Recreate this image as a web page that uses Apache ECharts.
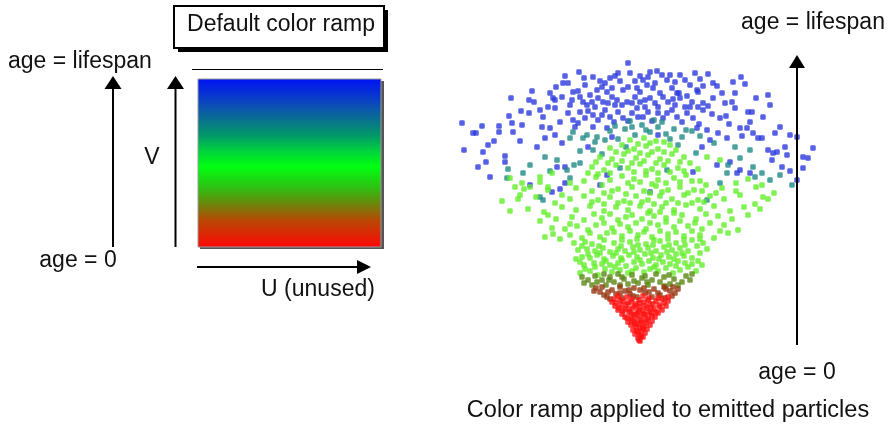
<!DOCTYPE html>
<html>
<head>
<meta charset="utf-8">
<script src="https://cdn.jsdelivr.net/npm/echarts@6/dist/echarts.min.js"></script>
<style>html,body{margin:0;padding:0;background:#fff}#c{width:895px;height:426px}</style>
</head>
<body>
<div id="c"></div>
<script>
// Particle positions: [horizontal offset from emitter, height above emitter], grouped by the colour
const blueParticles = [
[-178,220],[-167,210],[-164,210],[-158,217],[-176,193],[-162,176],[-157,191],[-154,181],[-150,166],[-141,217],[-141,211],[-135,187],[-135,181],
[-129,245],[-131,227],[-128,220],[-127,211],[-119,232],[-111,243],[-106,241],[-111,230],[-103,196],[-100,233],[-98,216],[-90,250],[-84,256],
[-85,243],[-85,235],[-75,267],[-77,260],[-72,260],[-61,271],[-56,265],[-12,280],
[-30,265],[-25,267],[0,267],[3,263],[17,272],[22,268],[27,263],[45,263],[60,264],[68,269],[73,260],[93,261],
[-67,251],[-43,253],[-38,256],[-33,251],[-28,255],[-17,253],[-12,256],[-3,255],[0,251],[7,258],[13,255],[15,260],[32,255],[37,250],[57,253],
[-87,245],[-68,243],[-57,241],[-53,238],[-42,245],[-37,241],[-28,246],[-23,243],[-18,238],[-13,241],[-5,246],[0,241],[10,245],[15,240],[23,246],
[28,241],[40,245],[52,241],[63,240],[73,245],[92,241],
[-97,226],[-80,221],[-72,230],[-67,223],[-60,231],[-55,225],[-47,228],[-42,223],[-35,233],[-30,226],[-22,231],[-17,225],[-8,230],[-3,235],[3,226],
[8,231],[18,230],[23,225],[32,233],[37,226],[47,230],[53,225],[63,233],[80,225],[95,235],
[-90,215],[-85,208],[-65,216],[-47,216],[-33,215],[57,215],[67,213],[87,205],
[77,257],[101,266],[105,259],[128,248],[95,250],[68,237],[39,250],[58,251],[72,229],[59,219],[86,227],[89,219],
[108,231],[112,231],[110,221],[100,215],[107,215],[113,210],[118,205],[102,207],[70,203],[140,216],[135,210],[122,205],
[145,196],[128,193],[133,190],[137,191],[132,183],[147,188],[157,206],[163,186],[173,195],[163,175],[142,176],[150,172],[157,163],[97,170],[100,173],
[-110,158],[-88,151],[-80,154],[-75,160],[-83,176],[-75,176],[-40,158],[-33,168],[10,151],[53,171],[110,170],[90,181],[77,178],
[-50,248],[-20,262],[5,236],[20,250],[45,236],[-45,236],[-25,238],[35,238],[-62,252],[50,258],[-10,270],[8,266],[-40,262],[30,268],
[-55,258],[-47,266],[-35,260],[-22,270],[-5,262],[10,271],[35,261],[40,268],[55,270],[63,257],[-70,238],[-60,246],[-48,241],[-32,240],[-8,240],
[5,243],[18,236],[33,244],[47,247],[58,236],[-62,220],[-52,232],[-38,228],[-26,221],[-12,222],[-2,226],[12,222],[27,230],[42,221],[50,236],
[85,240],[82,250],[-92,236],[-78,246],[-95,205],[-118,218],[-146,202],[-152,198],[123,226],[130,238],[150,208],[168,185],[116,245],[-108,252],
[-120,202],[78,210],[-78,200],[-28,206],[18,208],[-52,196],[62,196]
];
const tealParticles = [
[-132,174],[-133,165],[-117,170],[-95,186],[-83,183],[-73,173],[-66,178],[-60,180],[-47,193],[-43,206],[-70,205],[-53,208],[-100,146],[-97,143],
[-20,175],[-30,212],[-15,214],[-5,208],[2,218],[10,211],[18,216],[26,209],[34,214],[-10,222],[14,223],[27,173],[42,206],[52,212],[60,207],
[67,143],[87,170],[88,178],[100,185],[110,193],[113,176],[115,166],[130,163],[152,158],[-22,204],[-67,211],[-57,205],
[-45,201],[-35,203],[-25,217],[-8,216],[6,213],[22,221],[30,204],[46,213],[74,200],[95,196],[-110,178],[-90,172],[-60,192],[122,170],[140,168],
[-38,189],[38,198],[-14,196],[56,190],[-70,165],[80,160]
];
const greenParticles = [
[-60,70],[-50,72],[-42,68],[-35,74],[-28,71],[-20,73],[-12,70],[-4,75],[4,71],[10,74],[18,72],[26,75],[33,70],[40,73],[48,76],[56,72],[62,78],
[-56,78],[-46,80],[-38,79],[-30,78],[-22,80],[-14,77],[-6,81],[2,79],[9,82],[16,78],[23,81],[30,79],[38,82],[45,80],[-64,84],
[-58,86],[-50,85],[-43,88],[-36,84],[-27,87],[-19,85],[-11,88],[-3,86],[5,89],[13,85],[21,88],[29,86],[36,89],[44,87],[52,85],[60,90],
[-62,93],[-53,94],[-45,92],[-37,95],[-30,91],[-22,94],[-15,92],[-7,96],[0,93],[8,95],[16,92],[24,96],[32,93],[40,95],[48,92],[57,97],[67,94],
[-66,100],[-48,99],[-26,100],[-10,101],[6,99],[20,102],[36,100],[52,103],
[-95,106],[-80,104],[-70,108],[-58,105],[-40,106],[-33,110],[-18,107],[-2,108],[12,106],[28,109],[44,107],[60,108],[74,105],[88,110],
[-88,115],[-75,114],[-63,117],[-52,113],[-44,118],[-28,115],[-12,116],[-4,120],[6,114],[18,118],[34,116],[48,117],[62,114],[70,120],[84,118],[98,113],
[-100,122],[-84,124],[-68,126],[-56,123],[-38,125],[-22,123],[-8,128],[2,124],[14,127],[26,125],[42,128],[56,124],[78,127],[92,124],[108,128],
[-130,132],[-112,134],[-96,131],[-78,136],[-64,133],[-50,137],[-36,132],[-24,136],[-12,133],[0,137],[10,132],[22,136],[34,133],[46,138],[60,134],
[74,137],[90,132],[104,136],[120,134],[-138,142],[-122,144],[-104,146],[-70,144],[-56,147],[-42,143],[-30,146],[-16,142],[-4,147],[8,143],[20,147],
[32,144],[44,148],[58,143],[70,147],[84,144],[100,148],[128,144],[-116,154],[-92,156],[-64,155],[-48,152],[-22,154],[-8,156],[4,152],[16,157],
[28,153],[40,156],[54,153],[66,158],[82,155],[96,152],[116,156],[134,150],
[-56,162],[-44,166],[-30,163],[-18,167],[-6,164],[6,168],[18,163],[34,165],[46,168],[60,162],[-48,176],[-36,173],[-24,178],[-12,175],[0,179],
[12,174],[24,178],[38,175],[50,180],[-40,186],[-28,184],[-16,189],[-4,185],[8,188],[20,184],[32,189],[44,186],[-30,195],[-18,198],[-6,194],
[6,197],[18,194],[30,198],[-10,203],[4,205],[16,202],
[-130,165],[-118,160],[-100,166],[-88,170],[96,160],[108,164],[122,158],[-125,156],[-110,156],[-100,161],[-92,153],[-120,148],[80,183],[123,146],[67,186],
[-55,74],[-45,76],[-25,76],[-8,72],[14,76],[36,77],[52,79],[-60,81],[-34,82],[-18,83],[0,83],[19,84],[34,84],[58,82],[-52,89],[-40,90],[-24,90],
[-6,91],[11,90],[27,91],[42,90],[-58,97],[-41,97],[-19,97],[-2,98],[13,98],[29,98],[45,98],[63,100],[-55,101],[-36,103],[-18,103],[-3,104],
[14,103],[28,104],[44,103],[60,104],[-87,109],[-50,110],[-26,111],[-10,112],[4,111],[20,112],[36,111],[52,112],[80,112],[-70,119],[-36,120],
[-20,119],[10,120],[26,121],[40,122],[55,120],[-92,128],[-46,129],[-30,129],[-14,126],[8,130],[20,131],[34,130],[66,129],[-85,140],[-48,141],
[-36,139],[-22,140],[-10,140],[2,141],[14,139],[26,140],[38,140],[52,140],[64,141],[115,139],[-78,148],[-36,150],[-28,152],[-14,149],[10,150],
[22,151],[48,150],[62,152],[76,150],[-70,160],[-38,158],[-12,160],[0,161],[12,159],[26,160],[40,161],[52,162],[-52,170],[-42,169],[-30,170],
[-6,171],[6,172],[18,170],[30,171],[44,172],[58,174],[-44,181],[-32,180],[-18,182],[-8,180],[4,182],[16,180],[28,182],[40,181],[-24,191],
[-12,192],[0,190],[12,191],[24,191],[36,193],[-2,199],[10,200],[24,201]
];
const oliveParticles = [
[-48,58],[-34,58],[8,58],[-12,59],[30,59],[-2,60],[20,61],[-26,61],[42,61],[-52,63],[-38,63],[12,63],[-16,64],[34,64],[2,65],[-30,66],[24,66],
[-45,67],[46,67],[-8,68],[16,69],[-22,69],
[-56,60],[-20,58],[25,57],[-6,62],[38,58],[-43,61],[-31,63],[7,61],[50,63],[-58,66],[-18,66],[29,68],[-36,69],[5,67],[52,69]
];
const brownParticles = [
[-30,44],[-18,45],[-3,46],[12,46],[25,45],[32,47],[-36,48],[-24,49],[-10,49],[5,50],[18,50],[-40,51],[-15,52],[30,52],[0,53],[-28,53],[14,54],
[38,54],[-6,55],[-44,55],[24,56],[-20,56],
[-33,46],[-7,47],[20,48],[-20,50],[9,51],[35,50],[-46,52],[-32,51],[26,54],[-11,53],[4,55],[-38,56],[33,56]
];
const redParticles = [
[0,2],[-2,5],[3,6],[0,8],[-5,9],[5,10],[-2,11],[2,13],[-7,13],[7,14],[0,15],[-4,16],[4,17],[-9,18],[10,18],[-1,19],[6,20],[-6,21],[-12,21],
[12,22],[2,23],[-3,24],[8,25],[-9,25],[-15,26],[15,26],[0,27],[5,28],[-6,28],[-18,29],[18,30],[11,30],[-11,31],[-2,31],[3,32],[-22,33],[22,33],
[-15,34],[14,34],[7,35],[-7,35],[0,36],[-25,37],[26,37],[-19,38],[19,38],[-4,39],[10,39],[-12,40],[4,41],[-28,41],[28,42],[16,42],[-20,43],
[-1,43],[22,44],[-8,44],[9,45],
[-1,3],[1,7],[-3,12],[3,15],[-5,19],[1,21],[-8,23],[7,23],[-13,25],[12,27],[-4,29],[4,29],[-9,30],[9,31],[-17,32],[16,31],[-1,33],[-11,34],
[11,35],[-21,35],[20,36],[-5,37],[5,37],[-14,38],[13,39],[-24,40],[24,40],[-9,41],[0,40],[-17,42],[8,43],[-26,44],[18,45],[-13,46],[3,47],
[28,46],[-22,47]
];

const particleGroups = [
  {name:'blue', data: blueParticles, color:'#2a38dc'},
  {name:'teal', data: tealParticles, color:'#1f8a86'},
  {name:'green', data: greenParticles, color:'#62ee28'},
  {name:'olive', data: oliveParticles, color:'#5a8614'},
  {name:'brown', data: brownParticles, color:'#963812'},
  {name:'red', data: redParticles, color:'#ff1212'}
];

const FONT = '23px "Liberation Sans", Arial, sans-serif';
function txt(x, y, s, align, size){
  const f = size ? size + 'px "Liberation Sans", Arial, sans-serif' : FONT;
  return {type:'text', x:x, y:y, z:10, style:{text:s, font:f, fill:'#111', align:align||'center', verticalAlign:'middle'}};
}
function line(x1,y1,x2,y2,w){
  return {type:'line', z:10, shape:{x1:x1,y1:y1,x2:x2,y2:y2}, style:{stroke:'#000', lineWidth:w||2}};
}
function poly(pts){
  return {type:'polygon', z:10, shape:{points:pts}, style:{fill:'#000'}};
}

const graphics = [
  {type:'rect', z:5, shape:{x:178,y:10,width:210,height:42}, style:{fill:'#000'}},
  {type:'rect', z:6, shape:{x:174,y:6,width:210,height:42}, style:{fill:'#fff', stroke:'#000', lineWidth:2}},
  txt(281, 25, 'Default color ramp'),
  line(192, 69.5, 383, 69.5, 1),
  {type:'rect', z:5, shape:{x:200,y:81,width:184,height:168}, style:{fill:'#555'}},
  {type:'rect', z:6, shape:{x:198,y:79,width:183,height:168}, style:{
    fill:{type:'linear', x:0, y:0, x2:0, y2:1, colorStops:[
      {offset:0, color:'#0012f4'},{offset:0.12, color:'#0a3ec8'},{offset:0.24, color:'#0a6f92'},{offset:0.34, color:'#009a66'},
      {offset:0.44, color:'#00d838'},{offset:0.52, color:'#00ff10'},{offset:0.64, color:'#2cc414'},{offset:0.74, color:'#68880a'},
      {offset:0.84, color:'#b84804'},{offset:1, color:'#ff0606'}]},
    stroke:'#9a9a9a', lineWidth:1}},
  txt(8, 62, 'age = lifespan', 'left'),
  txt(78, 261, 'age = 0'),
  line(113, 247, 113, 86), poly([[113,76],[104.5,89],[121.5,89]]),
  line(175.5, 247, 175.5, 86), poly([[175.5,76],[167,89],[184,89]]),
  txt(152, 158, 'V'),
  line(197, 267, 360, 267), poly([[371,267],[357,260],[357,274]]),
  txt(318, 290, 'U (unused)'),
  txt(813, 23, 'age = lifespan'),
  line(797, 345, 797, 66), poly([[797,55],[789,68],[805,68]]),
  txt(797, 373, 'age = 0'),
  txt(668, 411, 'Color ramp applied to emitted particles', 'center', 23.5)
];

const chart = echarts.init(document.getElementById('c'), null, {renderer:'canvas'});
chart.setOption({
  animation:false,
  backgroundColor:'#fff',
  grid:{left:440, top:53, width:400, height:290},
  xAxis:{type:'value', min:-200, max:200, show:false},
  yAxis:{type:'value', min:0, max:290, show:false},
  series: particleGroups.map(g => ({
    type:'scatter', name:g.name, data:g.data, symbol:'roundRect', symbolSize:5.5, silent:true,
    itemStyle:{color:g.color}
  })),
  graphic: graphics
});
</script>
</body>
</html>
